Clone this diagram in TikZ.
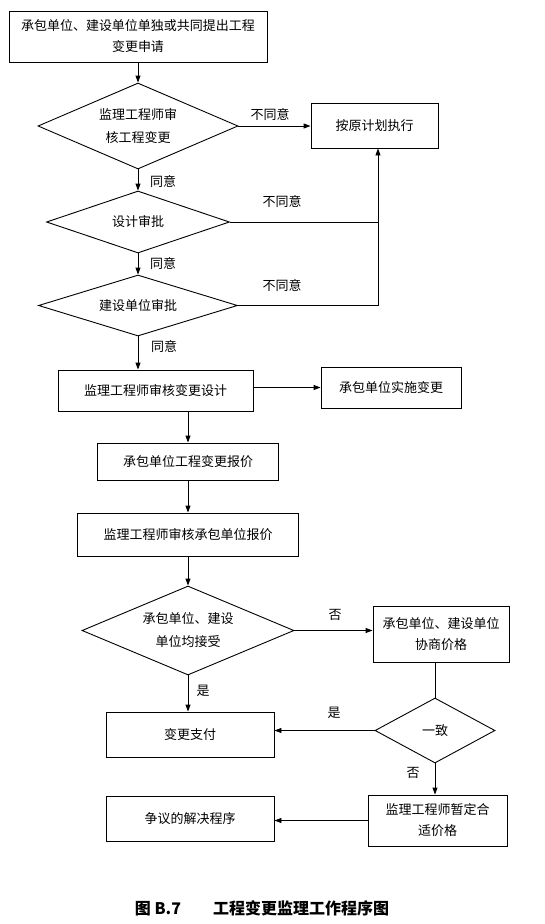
\documentclass[tikz,border=0pt]{standalone}
\usepackage{fontspec}
\newfontfamily\cjk{Noto Sans CJK SC}
\usetikzlibrary{shapes.geometric}
\usetikzlibrary{arrows.meta}

\begin{document}
\begin{tikzpicture}[x=1pt,y=-1pt,
  font={\cjk\fontsize{13}{21}\selectfont},
  line width=0.9pt,
  >={Triangle[length=7pt,width=5pt]},
  box/.style={draw,align=center,inner sep=0pt},
  choice/.style={draw,diamond,align=center,inner sep=0pt}]

  \useasboundingbox (0,0) rectangle (545,924);

  % main column
  \node [box,minimum width=258pt,minimum height=51pt] (apply) at (138,36.5) {承包单位、建设单位单独或共同提出工程\\变更申请};
  \node [choice,aspect=2.33,minimum width=200pt,minimum height=86pt] (engineer) at (138,126) {监理工程师审\\[2pt]核工程变更};
  \node [box,minimum width=127pt,minimum height=45pt] (plan) at (374.5,125.5) {按原计划执行};
  \node [choice,aspect=2.95,minimum width=183pt,minimum height=62pt] (design) at (138,222) {设计审批};
  \node [choice,aspect=3.26,minimum width=199pt,minimum height=61pt] (owner) at (138,305.5) {建设单位审批};
  \node [box,minimum width=195pt,minimum height=41pt] (review) at (155.5,390.5) {监理工程师审核变更设计};
  \node [box,minimum width=140pt,minimum height=41pt] (carry) at (391,387.5) {承包单位实施变更};
  \node [box,minimum width=181pt,minimum height=37pt] (quote) at (188,461.5) {承包单位工程变更报价};
  \node [box,minimum width=221pt,minimum height=43pt] (check) at (188,534.5) {监理工程师审核承包单位报价};
  \node [choice,aspect=2.38,minimum width=212pt,minimum height=89pt] (accept) at (188,630.5) {承包单位、建设\\[2pt]单位均接受};
  \node [box,minimum width=168pt,minimum height=45pt] (pay) at (190,734.5) {变更支付};
  \node [box,minimum width=168pt,minimum height=45pt] (dispute) at (190,818.5) {争议的解决程序};

  % right column
  \node [box,minimum width=136pt,minimum height=56pt] (talk) at (441,634) {承包单位、建设单位\\协商价格};
  \node [choice,aspect=1.85,minimum width=120pt,minimum height=65pt] (agree) at (435,730.5) {一致};
  \node [box,minimum width=139pt,minimum height=51pt] (fix) at (437.5,820.5) {监理工程师暂定合\\适价格};

  % connectors
  \draw [->] (apply) -- (engineer);
  \draw [->] (engineer) -- (design);
  \draw [->] (design) -- (owner);
  \draw [->] (owner) -- (owner.south |- review.north);
  \draw [->] (engineer.east) -- (engineer.east -| plan.west);
  \draw [->] (design.east) -| ([xshift=3.5pt]plan.south);
  \draw (owner.east) -| ([xshift=3.5pt]plan.south |- design.east);
  \draw [->] (review.east |- carry.west) -- (carry.west);
  \draw [->] (review.south -| quote.north) -- (quote.north);
  \draw [->] (quote) -- (check);
  \draw [->] (check) -- (accept);
  \draw [->] (accept.east) -- (accept.east -| talk.west);
  \draw [->] (accept.south) -- (accept.south |- pay.north);
  \draw (agree.north |- talk.south) -- (agree.north);
  \draw [->] (agree.west) -- (agree.west -| pay.east);
  \draw [->] (agree.south) -- (agree.south |- fix.north);
  \draw [->] (fix.west) -- (fix.west -| dispute.east);

  % labels
  \node (no1) at (270,115) {不同意};
  \node (no2) at (282,202) {不同意};
  \node (no3) at (282,286) {不同意};
  \node (yes1) at (163,182) {同意};
  \node (yes2) at (163,264) {同意};
  \node (yes3) at (164,347) {同意};
  \node (no4) at (335,615) {否};
  \node (yes4) at (203,691) {是};
  \node (yes5) at (334,713) {是};
  \node (no5) at (413,773) {否};

  \node [font={\cjk\bfseries\fontsize{16}{16}\selectfont}] (title) at (262,908) {图 B.7\quad\quad 工程变更监理工作程序图};

\end{tikzpicture}
\end{document}
